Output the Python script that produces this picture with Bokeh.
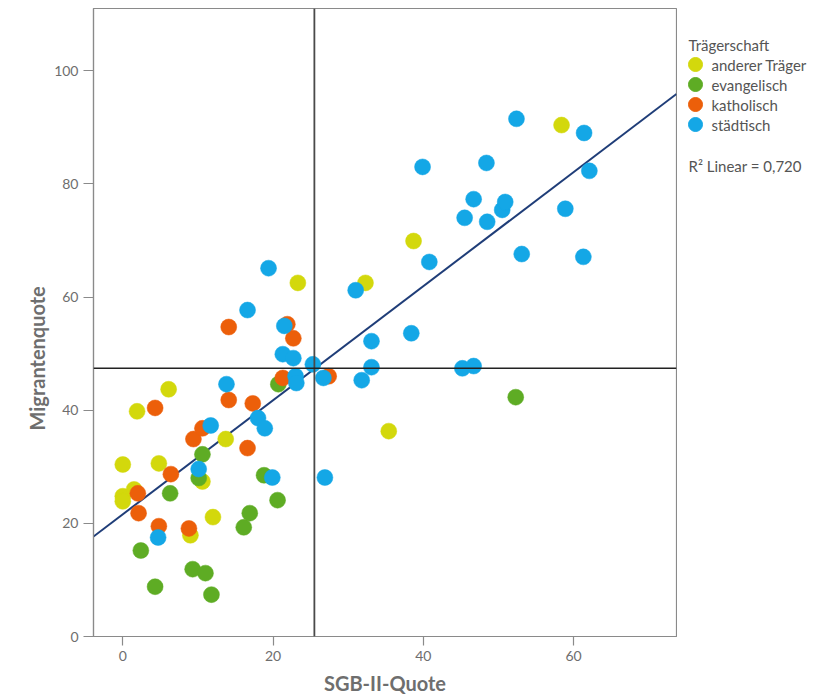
import numpy as np
from bokeh.plotting import figure
from bokeh.models import Span, Range1d, FixedTicker, Title, ColumnDataSource
from bokeh.layouts import row
from bokeh.embed import file_html
from bokeh.resources import INLINE
from bokeh.core.properties import value

# ---------------- data ----------------
categories = ["anderer Träger", "evangelisch", "katholisch", "städtisch"]
colors = ["#d3d80c", "#5eac24", "#ec5f0a", "#14a7e6"]

anderer_x = [0.0, 0.0, 0.0, 1.5, 1.9, 6.1, 4.8, 10.6, 13.7, 12.0, 9.0, 23.3, 32.3, 38.7, 35.4, 58.4]
anderer_y = [30.4, 24.8, 23.9, 26.0, 39.8, 43.7, 30.6, 27.4, 34.9, 21.1, 17.9, 62.5, 62.5, 69.9, 36.3, 90.4]

evang_x = [2.4, 4.3, 6.3, 10.6, 10.1, 9.3, 11.0, 11.8, 16.1, 16.9, 18.8, 20.6, 20.7, 52.3]
evang_y = [15.2, 8.8, 25.3, 32.2, 28.0, 11.9, 11.2, 7.4, 19.3, 21.8, 28.5, 24.1, 44.6, 42.3]

kath_x = [2.0, 2.1, 4.3, 4.8, 6.4, 8.8, 9.4, 10.6, 14.1, 14.1, 16.6, 17.3, 21.3, 21.9, 22.7, 27.4]
kath_y = [25.3, 21.8, 40.4, 19.5, 28.7, 19.1, 34.9, 36.8, 54.7, 41.8, 33.3, 41.2, 45.7, 55.2, 52.7, 46.0]

staedt_x = [4.7, 10.1, 11.7, 13.8, 16.6, 19.4, 18.0, 18.9, 19.9, 21.3, 21.5, 22.7, 23.0, 23.1,
            25.3, 26.7, 26.9, 31.0, 31.8, 33.1, 33.1, 38.4, 39.9, 40.8, 45.2, 46.7, 45.5, 46.7,
            48.5, 48.4, 50.5, 50.9, 52.4, 53.1, 58.9, 61.3, 61.4, 62.1]
staedt_y = [17.5, 29.6, 37.3, 44.6, 57.7, 65.1, 38.6, 36.8, 28.1, 49.9, 54.9, 49.2, 46.0, 44.8,
            48.1, 45.7, 28.1, 61.2, 45.3, 52.2, 47.6, 53.6, 83.0, 66.2, 47.4, 47.8, 74.0, 77.3,
            73.3, 83.7, 75.4, 76.8, 91.5, 67.6, 75.6, 67.1, 89.0, 82.3]

x_ticks = [0, 20, 40, 60]
y_ticks = [0, 20, 40, 60, 80, 100]
mean_x = 25.5
mean_y = 47.4
fit_intercept = 21.6
fit_slope = 1.008
legend_title = "Trägerschaft"
r2_text = "R² Linear = 0,720"
x_title = "SGB-II-Quote"
y_title = "Migrantenquote"

series = [(anderer_x, anderer_y), (evang_x, evang_y), (kath_x, kath_y), (staedt_x, staedt_y)]

FONT = "Lato"
TXT = "#6e6e6e"

# ---------------- main plot ----------------
x0, x1 = -3.9, 73.7
y0, y1 = 0, 111
p = figure(width=677, height=698, output_backend="svg", toolbar_location=None,
           x_range=Range1d(x0, x1), y_range=Range1d(y0, y1),
           min_border_left=93, min_border_right=1, min_border_top=8, min_border_bottom=62)
p.xgrid.visible = False
p.ygrid.visible = False
p.outline_line_color = "#8a8a8a"
p.outline_line_width = 1.2
p.background_fill_color = "white"
p.border_fill_color = "white"

for ax in (p.xaxis[0], p.yaxis[0]):
    ax.axis_line_color = "#8a8a8a"
    ax.axis_line_width = 1.2
    ax.major_tick_line_color = "#8a8a8a"
    ax.major_tick_line_width = 1.2
    ax.major_tick_in = 0
    ax.minor_tick_line_color = None
    ax.major_label_text_font = FONT
    ax.major_label_text_font_size = "14px"
    ax.major_label_text_color = TXT
p.xaxis[0].ticker = FixedTicker(ticks=x_ticks)
p.yaxis[0].ticker = FixedTicker(ticks=y_ticks)
p.xaxis[0].major_tick_out = 9
p.yaxis[0].major_tick_out = 10
p.xaxis[0].major_label_standoff = 5
p.yaxis[0].major_label_standoff = 5

p.xaxis[0].axis_label = x_title
p.xaxis[0].axis_label_standoff = 7
p.xaxis[0].axis_label_text_font = FONT
p.xaxis[0].axis_label_text_font_size = "20px"
p.xaxis[0].axis_label_text_font_style = "bold"
p.xaxis[0].axis_label_text_color = TXT

p.add_layout(Title(text=y_title, align="left", offset=206, text_font=FONT,
                   text_font_size="20px", text_font_style="bold", text_color=TXT,
                   standoff=6), "left")

p.add_layout(Span(location=mean_x, dimension="height", line_color="#4a4a4a", line_width=1.8))
p.add_layout(Span(location=mean_y, dimension="width", line_color="#222222", line_width=1.5))

lx = np.array([x0, x1])
p.line(lx, fit_intercept + fit_slope * lx, line_color="#1f3d78", line_width=2)

for (xs, ys), c in zip(series, colors):
    p.scatter(xs, ys, size=16, fill_color=c, line_color=c, line_width=0.5)

# ---------------- legend panel (coordinates = page pixels) ----------------
lg = figure(width=159, height=698, output_backend="svg", toolbar_location=None,
            x_range=Range1d(677, 836), y_range=Range1d(636, 8),
            x_axis_location=None, y_axis_location=None,
            min_border_left=0, min_border_right=0, min_border_top=8, min_border_bottom=62,
            outline_line_color=None)
lg.xgrid.visible = False
lg.ygrid.visible = False
item_y = [64, 84, 104, 124]
src = ColumnDataSource(dict(x=[695] * 4, y=item_y, c=colors, t=categories, tx=[711] * 4))
lg.scatter("x", "y", size=14, fill_color="c", line_color="c", source=src)
lg.text("tx", "y", text="t", source=src, text_baseline="middle", text_font=value(FONT),
        text_font_size="15px", text_color="#555555")
lg.text([688], [44], text=[legend_title], text_baseline="middle", text_font=value(FONT),
        text_font_size="15px", text_color="#555555")
lg.text([688], [165], text=[r2_text], text_baseline="middle", text_font=value(FONT),
        text_font_size="15px", text_color="#555555")

layout = row(p, lg, spacing=0)
open("out.html", "w").write(file_html(layout, INLINE))
